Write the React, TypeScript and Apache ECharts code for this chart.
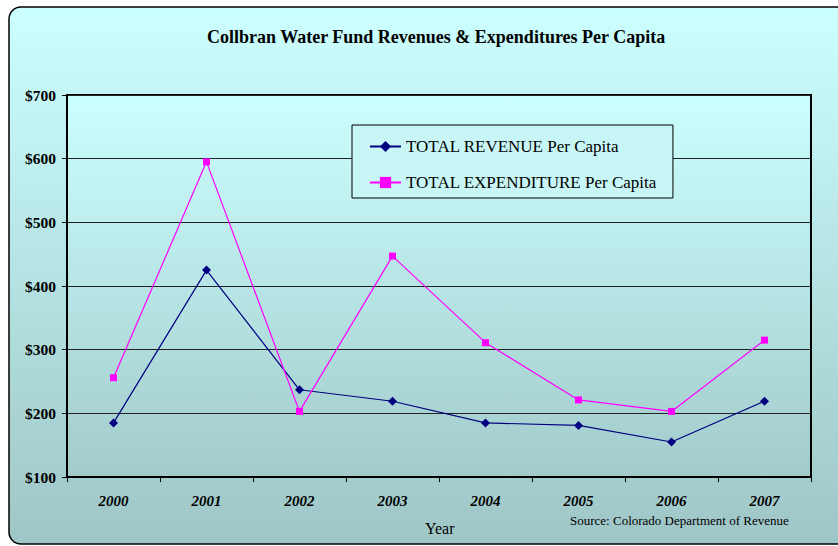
import React, { useEffect, useRef } from "react";
import * as echarts from "echarts";

const years = ["2000", "2001", "2002", "2003", "2004", "2005", "2006", "2007"];
const revenue = [185, 425, 237, 219, 185, 181, 155, 219];
const expenditure = [256, 595, 203, 447, 311, 221, 203, 315];
const yTicks = { min: 100, max: 700, interval: 100 };

const serif = "'Liberation Serif', 'Times New Roman', serif";

export default function App() {
  const ref = useRef<HTMLDivElement>(null);
  useEffect(() => {
    document.body.style.margin = "0";
    const chart = echarts.init(ref.current!, null, { renderer: "svg" });
    chart.setOption({
      animation: false,
      graphic: [
        {
          type: "rect",
          z: -10,
          shape: { x: 9, y: 7, width: 850, height: 537, r: 12 },
          style: {
            fill: new echarts.graphic.LinearGradient(0, 0, 0, 1, [
              { offset: 0, color: "#ccffff" },
              { offset: 1, color: "#9fc6c6" },
            ]),
            stroke: "#000",
            lineWidth: 1.5,
          },
        },
        {
          type: "text",
          left: 425,
          top: 520,
          style: { text: "Year", font: `16px ${serif}`, fill: "#000" },
        },
        {
          type: "text",
          left: 570,
          top: 514,
          style: { text: "Source: Colorado Department of Revenue", font: `13px ${serif}`, fill: "#000" },
        },
      ],
      title: {
        text: "Collbran Water Fund Revenues & Expenditures Per Capita",
        left: 202,
        top: 23,
        textStyle: { fontFamily: serif, fontSize: 18, fontWeight: "bold", color: "#000" },
      },
      legend: {
        left: 352,
        top: 125,
        orient: "vertical",
        borderColor: "#000",
        borderWidth: 1,
        backgroundColor: "#c8f6f6",
        padding: [13, 16, 7, 17],
        itemGap: 19,
        itemWidth: 31,
        itemHeight: 14,
        textStyle: { fontFamily: serif, fontSize: 17, color: "#000" },
        data: ["TOTAL REVENUE Per Capita", "TOTAL EXPENDITURE Per Capita"],
      },
      grid: {
        left: 67,
        right: 27,
        top: 95,
        bottom: 69,
        show: true,
        borderColor: "#000",
        borderWidth: 2,
        backgroundColor: new echarts.graphic.LinearGradient(0, 0, 0, 1, [
          { offset: 0, color: "#ccffff" },
          { offset: 1, color: "#a3cbcb" },
        ]),
      },
      xAxis: {
        type: "category",
        data: years,
        boundaryGap: true,
        axisLine: { show: true, lineStyle: { color: "#000", width: 2 } },
        axisTick: { show: true, interval: 0, length: 5, lineStyle: { color: "#000", width: 1 } },
        axisLabel: {
          margin: 16,
          fontFamily: serif,
          fontSize: 15,
          fontWeight: "bold",
          fontStyle: "italic",
          color: "#000",
        },
      },
      yAxis: {
        type: "value",
        min: yTicks.min,
        max: yTicks.max,
        interval: yTicks.interval,
        axisLine: { show: true, lineStyle: { color: "#000", width: 2 } },
        axisTick: { show: true, length: 5, lineStyle: { color: "#000", width: 1 } },
        axisLabel: {
          margin: 11,
          fontFamily: serif,
          fontSize: 15.5,
          fontWeight: "bold",
          color: "#000",
          formatter: (v: number) => "$" + v,
        },
        splitLine: { show: true, lineStyle: { color: "#222", width: 1 } },
      },
      series: [
        {
          name: "TOTAL REVENUE Per Capita",
          type: "line",
          data: revenue,
          symbol: "diamond",
          symbolSize: 9,
          lineStyle: { color: "#000080", width: 1.2 },
          itemStyle: { color: "#000080" },
        },
        {
          name: "TOTAL EXPENDITURE Per Capita",
          type: "line",
          data: expenditure,
          symbol: "rect",
          symbolSize: 7,
          lineStyle: { color: "#ff00ff", width: 1.2 },
          itemStyle: { color: "#ff00ff" },
        },
      ],
    });
    return () => chart.dispose();
  }, []);
  return <div ref={ref} style={{ width: 838, height: 546 }} />;
}
